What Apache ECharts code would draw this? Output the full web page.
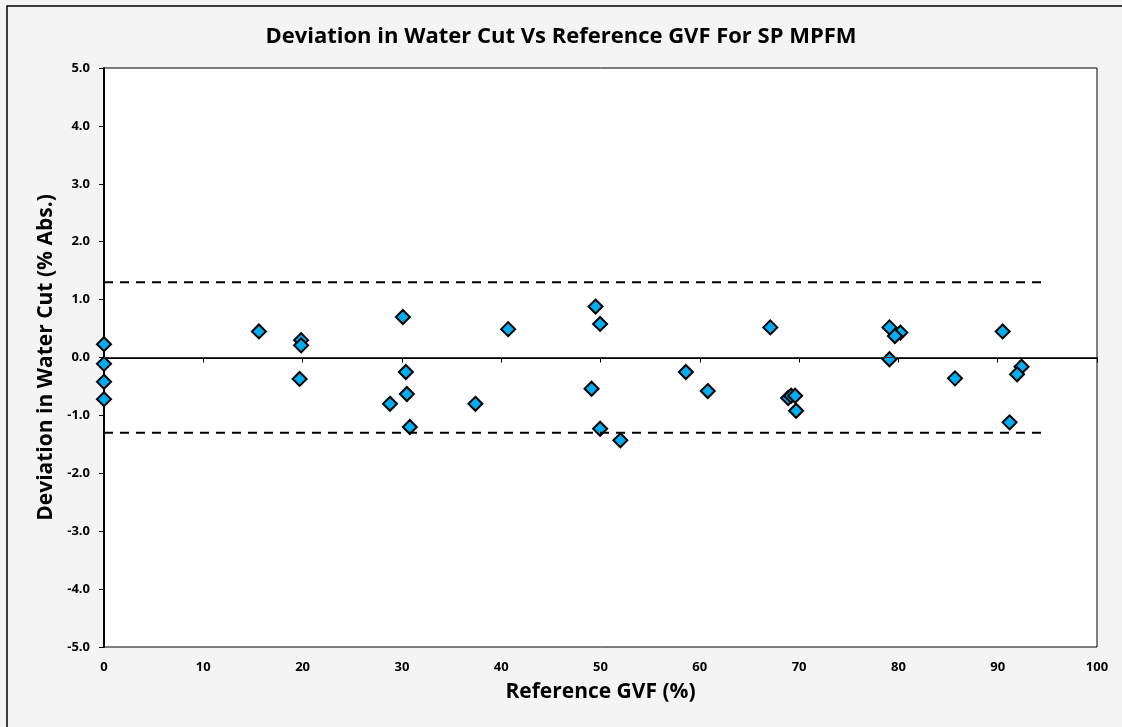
<!DOCTYPE html>
<html>
<head>
<meta charset="utf-8">
<script src="https://cdn.jsdelivr.net/npm/echarts@6/dist/echarts.min.js"></script>
<style>
  html, body { margin: 0; padding: 0; background: #f4f4f4; }
  #main { width: 1122px; height: 727px; }
</style>
</head>
<body>
<div id="main"></div>
<script>
// reference GVF (%) and deviation in water cut (% abs.)
var gvf = [0, 0, 0, 0, 15.6, 19.85, 19.85, 19.7, 30.1, 30.4, 30.5, 28.8, 30.8,
  40.7, 49.5, 49.96, 67.1, 37.4, 49.1, 49.96, 52.0, 58.6, 60.8,
  68.9, 69.2, 69.6, 69.7, 79.1, 80.2, 79.65, 79.1, 85.7, 90.5, 92.4, 91.95, 91.2];
var deviation = [0.23, -0.11, -0.42, -0.72, 0.45, 0.30, 0.21, -0.37, 0.70, -0.25, -0.63, -0.80, -1.20,
  0.49, 0.88, 0.58, 0.52, -0.80, -0.54, -1.23, -1.43, -0.25, -0.58,
  -0.70, -0.66, -0.66, -0.92, 0.52, 0.43, 0.37, -0.03, -0.36, 0.45, -0.16, -0.29, -1.12];

var limitX = [0, 95];
var upperLimit = 1.3;
var lowerLimit = -1.3;

var points = gvf.map(function (x, i) { return [x, deviation[i]]; });

var chart = echarts.init(document.getElementById('main'));
chart.setOption({
  backgroundColor: '#f4f4f4',
  animation: false,
  title: {
    text: 'Deviation in Water Cut Vs Reference GVF For SP MPFM',
    left: 'center',
    top: 21,
    textStyle: { fontFamily: 'Open Sans', fontWeight: 'bold', fontSize: 22, color: '#000' }
  },
  graphic: [{
    type: 'rect',
    shape: { x: 7, y: 6, width: 1130, height: 740 },
    style: { fill: 'none', stroke: '#000', lineWidth: 1.5 },
    silent: true
  }],
  grid: {
    left: 104, right: 25, top: 68, bottom: 80,
    show: true, backgroundColor: '#fff', borderColor: '#000', borderWidth: 1
  },
  xAxis: {
    type: 'value', min: 0, max: 100, interval: 10,
    name: 'Reference GVF (%)', nameLocation: 'middle', nameGap: 35,
    nameTextStyle: { fontFamily: 'Open Sans', fontWeight: 'bold', fontSize: 21, color: '#000' },
    axisLine: { lineStyle: { color: '#000', width: 2 } },
    axisTick: { show: true, length: 5, lineStyle: { color: '#000' } },
    axisLabel: { fontFamily: 'Open Sans', fontWeight: 'bold', fontSize: 13, color: '#000', margin: 14 },
    splitLine: { show: false }
  },
  yAxis: {
    type: 'value', min: -5, max: 5, interval: 1,
    name: 'Deviation in Water Cut (% Abs.)', nameLocation: 'middle', nameGap: 46,
    nameTextStyle: { fontFamily: 'Open Sans', fontWeight: 'bold', fontSize: 21, color: '#000' },
    axisLine: { lineStyle: { color: '#000', width: 2 } },
    axisTick: { show: true, length: 5, lineStyle: { color: '#000' } },
    axisLabel: {
      fontFamily: 'Open Sans', fontWeight: 'bold', fontSize: 13, color: '#000', margin: 14,
      formatter: function (v) { return v.toFixed(1); }
    },
    splitLine: { show: false }
  },
  series: [
    {
      type: 'line', data: [[0, 0], [100, 0]], symbol: 'none',
      lineStyle: { color: '#333', width: 1.2 }, silent: true
    },
    {
      type: 'line', data: limitX.map(function (x) { return [x, upperLimit]; }), symbol: 'none',
      lineStyle: { color: '#000', width: 2, type: [9, 7] }, silent: true
    },
    {
      type: 'line', data: limitX.map(function (x) { return [x, lowerLimit]; }), symbol: 'none',
      lineStyle: { color: '#000', width: 2, type: [9, 7] }, silent: true
    },
    {
      type: 'scatter', data: points, symbol: 'diamond', symbolSize: 14,
      itemStyle: { color: '#00aeef', borderColor: '#000', borderWidth: 2, opacity: 1 }
    }
  ]
});
</script>
</body>
</html>
